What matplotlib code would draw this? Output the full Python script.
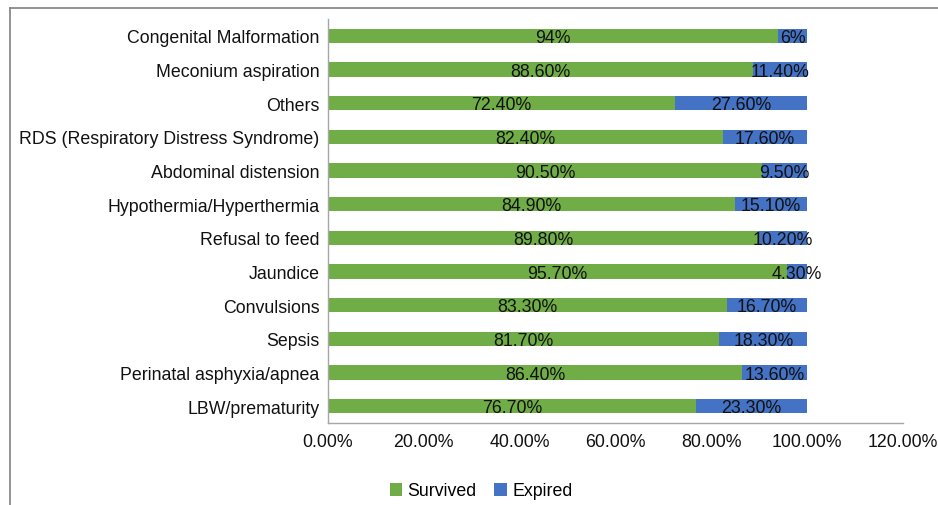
import matplotlib.pyplot as plt
from matplotlib.lines import Line2D

plt.rcParams['font.family'] = ['Liberation Sans', 'DejaVu Sans']

# data, top to bottom as shown
causes = ['Congenital Malformation', 'Meconium aspiration', 'Others',
          'RDS (Respiratory Distress Syndrome)', 'Abdominal distension',
          'Hypothermia/Hyperthermia', 'Refusal to feed', 'Jaundice',
          'Convulsions', 'Sepsis', 'Perinatal asphyxia/apnea', 'LBW/prematurity']
survived = [94, 88.6, 72.4, 82.4, 90.5, 84.9, 89.8, 95.7, 83.3, 81.7, 86.4, 76.7]
expired = [6, 11.4, 27.6, 17.6, 9.5, 15.1, 10.2, 4.3, 16.7, 18.3, 13.6, 23.3]
survived_labels = ['94%', '88.60%', '72.40%', '82.40%', '90.50%', '84.90%',
                   '89.80%', '95.70%', '83.30%', '81.70%', '86.40%', '76.70%']
expired_labels = ['6%', '11.40%', '27.60%', '17.60%', '9.50%', '15.10%',
                  '10.20%', '4.30%', '16.70%', '18.30%', '13.60%', '23.30%']
xticks = [0, 20, 40, 60, 80, 100, 120]

green = '#70AD47'
blue = '#4472C4'
fs = 12.8

fig = plt.figure(figsize=(9.38, 5.06), dpi=100)
ax = fig.add_axes([328 / 938, 1 - 424 / 506, (903 - 328) / 938, (424 - 20) / 506])

y = list(range(len(causes)))
h = 0.42
ax.barh(y, survived, height=h, color=green, label='Survived')
ax.barh(y, expired, left=survived, height=h, color=blue, label='Expired')

# labels centred in each segment (sit a touch low, like the original)
for i in y:
    ax.text(survived[i] / 2, i + 0.05, survived_labels[i], ha='center', va='center',
            fontsize=fs, color='#111111')
    ax.text(survived[i] + expired[i] / 2, i + 0.05, expired_labels[i], ha='center',
            va='center', fontsize=fs, color='#111111')

ax.set_ylim(len(causes) - 0.5, -0.5)
ax.set_xlim(0, 120)
ax.set_yticks(y)
ax.set_yticklabels(causes, fontsize=fs, color='#111111')
ax.set_xticks(xticks)
ax.set_xticklabels([f'{t:.2f}%' for t in xticks], fontsize=fs, color='#111111')
ax.tick_params(axis='y', length=0, pad=6)
ax.tick_params(axis='x', length=0, pad=7)

for s in ['top', 'right']:
    ax.spines[s].set_visible(False)
for s in ['left', 'bottom']:
    ax.spines[s].set_color('#a6a6a6')
    ax.spines[s].set_linewidth(1)

# legend under the chart
ax.legend(loc='center', bbox_to_anchor=(481 / 938, 1 - 492 / 506),
          bbox_transform=fig.transFigure, ncol=2, frameon=False, fontsize=fs,
          handlelength=0.7, handleheight=0.7, handletextpad=0.3, columnspacing=1.0)

# partial outer chart border
fig.add_artist(Line2D([10 / 938, 1], [1 - 9 / 506, 1 - 9 / 506],
                      transform=fig.transFigure, color='#808080', lw=1.2))
fig.add_artist(Line2D([10 / 938, 10 / 938], [0, 1 - 9 / 506],
                      transform=fig.transFigure, color='#808080', lw=1.2))

fig.savefig('out.png', dpi=100)
